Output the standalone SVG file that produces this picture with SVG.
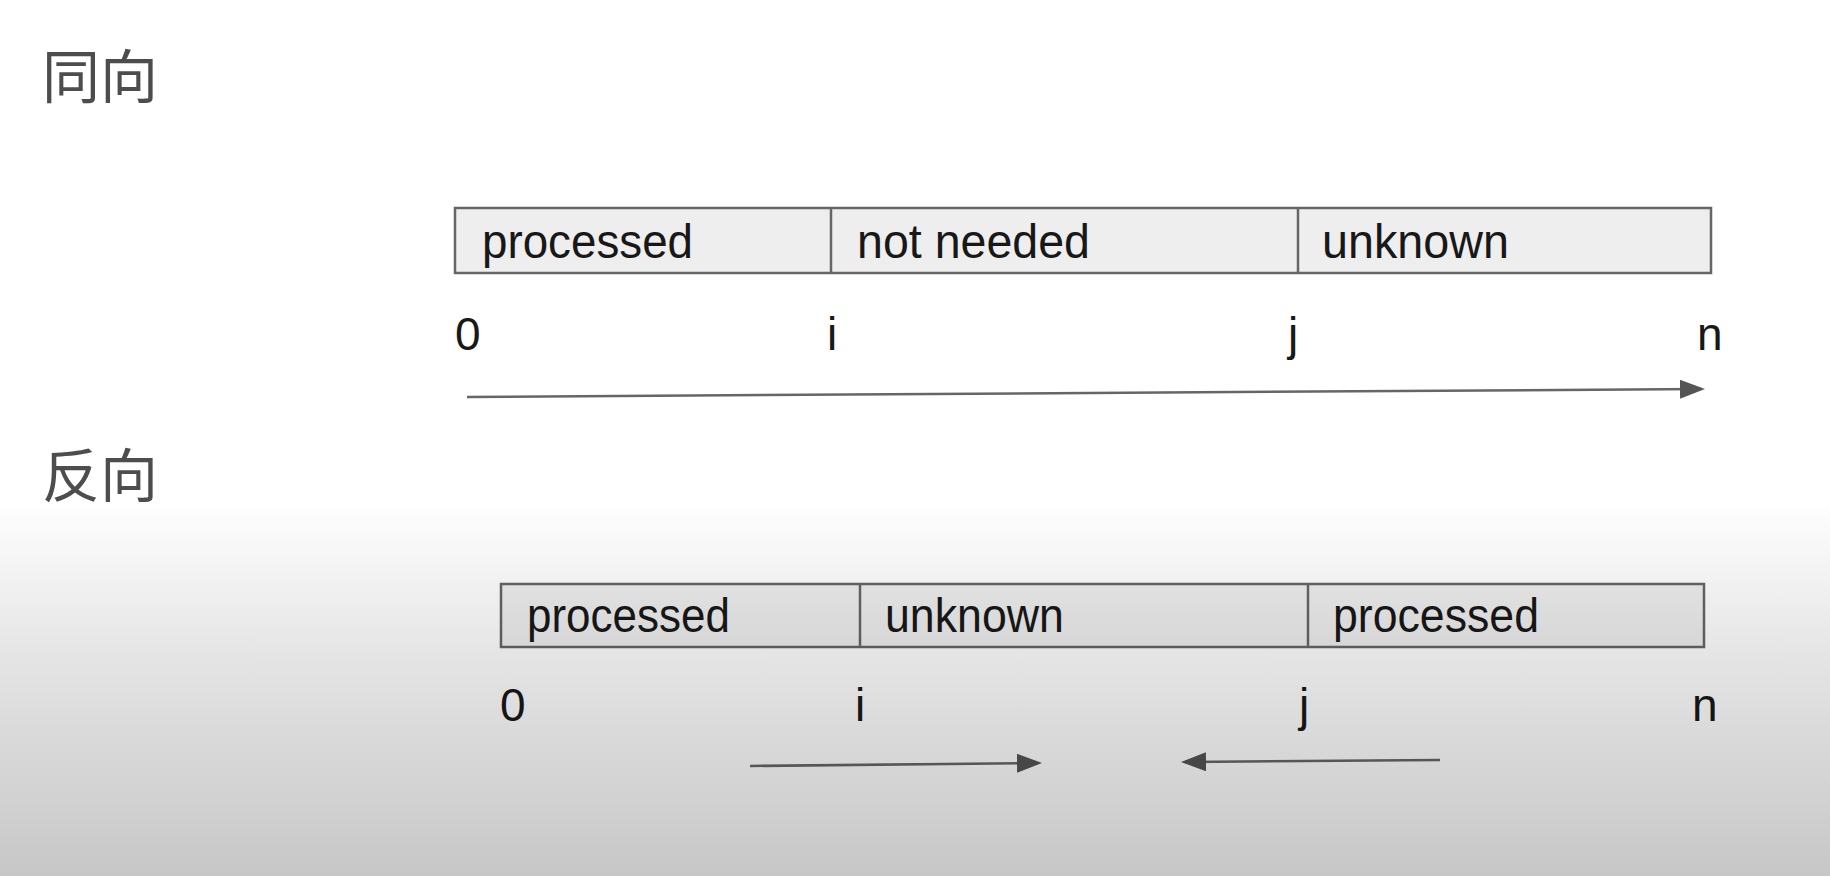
<svg xmlns="http://www.w3.org/2000/svg" width="1830" height="876" viewBox="0 0 1830 876">
  <style>
    .title { font-family: "Noto Sans CJK SC", "Noto Sans", sans-serif; font-size: 58px; fill: #4d4d4d; }
    .cell { fill: #eeeeee; stroke: #666666; stroke-width: 2.5; }
    .divider { stroke: #666666; stroke-width: 2.5; }
    .label { font-family: "Liberation Sans", Arial, sans-serif; font-size: 49px; fill: #181818; }
    .index { font-family: "Liberation Sans", Arial, sans-serif; font-size: 46px; fill: #181818; }
    .arrow { stroke: #666666; stroke-width: 2.5; fill: none; marker-end: url(#head); }
  </style>
  <defs>
    <marker id="head" markerUnits="userSpaceOnUse" markerWidth="27" markerHeight="20" refX="21" refY="9.5" orient="auto">
      <path d="M0,0 L25,9.5 L0,19 Z" fill="#555555"/>
    </marker>
    <linearGradient id="shade" x1="0" y1="0" x2="0" y2="876" gradientUnits="userSpaceOnUse">
      <stop offset="0.57" stop-color="#000" stop-opacity="0"/>
      <stop offset="0.76" stop-color="#000" stop-opacity="0.11"/>
      <stop offset="1" stop-color="#000" stop-opacity="0.22"/>
    </linearGradient>
  </defs>

  <rect width="1830" height="876" fill="#ffffff"/>

  <!-- same-direction scan -->
  <g id="same-direction">
    <text class="title" x="42" y="98">同向</text>
    <g id="same-array">
      <rect class="cell" x="455" y="208" width="1256" height="65"/>
      <line class="divider" x1="831" y1="208" x2="831" y2="273"/>
      <line class="divider" x1="1298" y1="208" x2="1298" y2="273"/>
      <text class="label" x="482" y="258" textLength="211" lengthAdjust="spacingAndGlyphs">processed</text>
      <text class="label" x="857" y="258" textLength="233" lengthAdjust="spacingAndGlyphs">not needed</text>
      <text class="label" x="1322" y="258" textLength="187" lengthAdjust="spacingAndGlyphs">unknown</text>
    </g>
    <g id="same-indices">
      <text class="index" x="455" y="350">0</text>
      <text class="index" x="827" y="350">i</text>
      <text class="index" x="1288" y="350">j</text>
      <text class="index" x="1697" y="350">n</text>
    </g>
  </g>

  <!-- opposite-direction scan -->
  <g id="opposite-direction">
    <text class="title" x="42" y="497">反向</text>
    <g id="opposite-array">
      <rect class="cell" x="501" y="584" width="1203" height="63"/>
      <line class="divider" x1="860" y1="584" x2="860" y2="647"/>
      <line class="divider" x1="1308" y1="584" x2="1308" y2="647"/>
      <text class="label" x="527" y="632" textLength="203" lengthAdjust="spacingAndGlyphs">processed</text>
      <text class="label" x="885" y="632" textLength="179" lengthAdjust="spacingAndGlyphs">unknown</text>
      <text class="label" x="1333" y="632" textLength="206" lengthAdjust="spacingAndGlyphs">processed</text>
    </g>
    <g id="opposite-indices">
      <text class="index" x="500" y="721">0</text>
      <text class="index" x="855" y="721">i</text>
      <text class="index" x="1299" y="721">j</text>
      <text class="index" x="1692" y="721">n</text>
    </g>
  </g>

  <!-- scan directions -->
  <g id="connectors">
    <line class="arrow" x1="467" y1="397" x2="1701" y2="389"/>
    <line class="arrow" x1="750" y1="766" x2="1038" y2="763"/>
    <line class="arrow" x1="1440" y1="760" x2="1185" y2="762"/>
  </g>

  <!-- soft darkening toward the bottom edge -->
  <rect width="1830" height="876" fill="url(#shade)"/>
</svg>
